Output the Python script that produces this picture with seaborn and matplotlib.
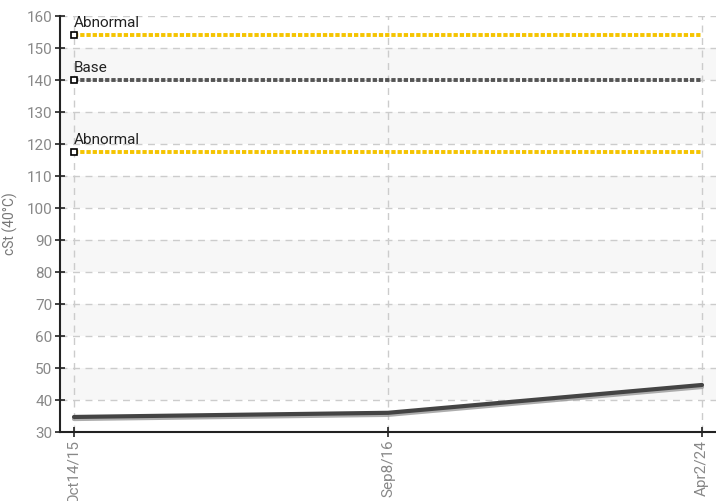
import matplotlib
matplotlib.use("Agg")
import matplotlib.pyplot as plt
import matplotlib.patheffects as pe
import seaborn as sns
import pandas as pd

# data
dates = ["Oct14/15", "Sep8/16", "Apr2/24"]
viscosity = [34.7, 36.0, 44.7]
abnormal_high = 154.0
base_value = 140.0
abnormal_low = 117.5


def main():
    sns.set_style("white")
    plt.rcParams['font.family'] = ['Roboto', 'DejaVu Sans']

    df = pd.DataFrame({"pos": range(len(dates)), "date": dates, "cst": viscosity})

    fig = plt.figure(figsize=(7.16, 5.01), dpi=100)
    ax = fig.add_axes([60 / 716, 69 / 501, 656 / 716, 416 / 501])

    # alternating background bands
    for lo in range(40, 160, 20):
        ax.axhspan(lo, lo + 10, color="#f7f7f7", zorder=0, lw=0)

    # threshold lines
    limits = [(abnormal_high, "#f5c400", "Abnormal"),
              (base_value, "#555555", "Base"),
              (abnormal_low, "#f5c400", "Abnormal")]
    n = len(dates)
    for val, col, label in limits:
        sns.lineplot(x=list(range(n)), y=[val] * n, ax=ax, color=col, lw=2.8,
                     linestyle=(0, (1.1, 0.5)), zorder=3)
        ax.plot([0], [val], marker="s", ms=5, mfc="white", mec="black", mew=1.2, zorder=5)
        ax.text(0, val + 1.5, label, fontsize=11, color="#222222", ha="left", va="bottom", zorder=6)

    # data line
    sns.lineplot(data=df, x="pos", y="cst", ax=ax, color="#444444", lw=3, zorder=4,
                 path_effects=[pe.SimpleLineShadow(offset=(0, -1.5), shadow_color="#999999", alpha=0.8),
                               pe.Normal()])

    ax.set_xlim(-14 / 314, 2 + 14 / 314)
    ax.set_ylim(30, 160)
    ax.set_yticks(range(30, 161, 10))
    ax.set_xticks(range(n))
    ax.set_xticklabels(dates, rotation=90)
    ax.set_xlabel("")
    ax.set_ylabel("cSt (40°C)", fontsize=10, color="#777777")
    ax.yaxis.set_label_coords(-0.064, 0.5)

    ax.grid(True, color="#cccccc", linestyle=(0, (5, 4)), lw=1)
    ax.tick_params(axis="both", colors="#222222", labelcolor="#888888", labelsize=11,
                   direction="inout", length=7, width=1.2, left=True, bottom=True, pad=2)
    for side in ["top", "right"]:
        ax.spines[side].set_visible(False)
    for side in ["left", "bottom"]:
        ax.spines[side].set_color("#222222")
        ax.spines[side].set_linewidth(1.5)

    fig.savefig("out.png", dpi=100)


if __name__ == "__main__":
    main()
